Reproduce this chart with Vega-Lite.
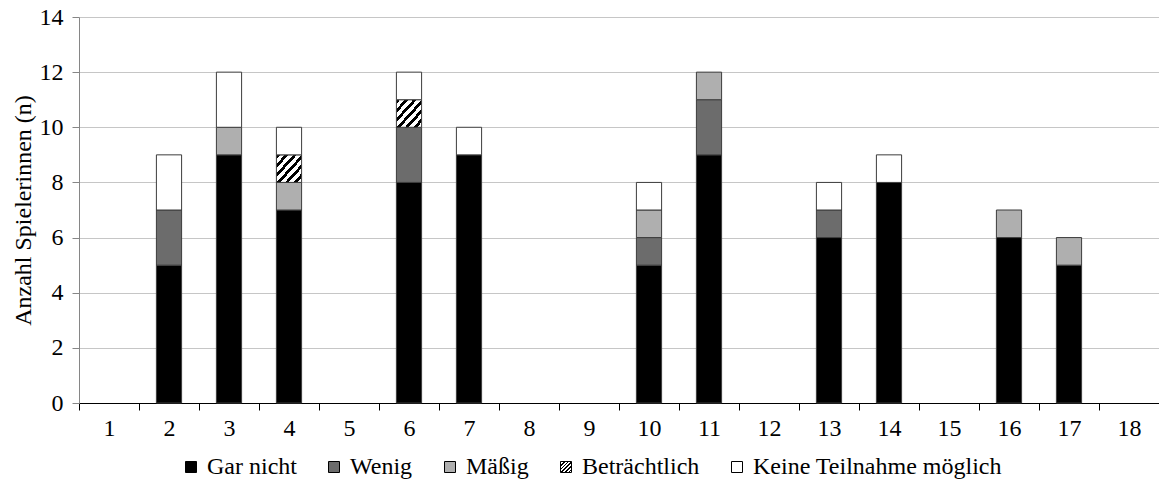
{
  "$schema": "https://vega.github.io/schema/vega-lite/v6.json",
  "width": 1080,
  "height": 386,
  "autosize": "none",
  "padding": {"left": 79, "top": 17, "right": 0, "bottom": 81},
  "background": "white",
  "config": {
    "font": "Liberation Serif",
    "view": {"stroke": null}
  },
  "data": {
    "values": [
      {"spiel": 2, "stufe": 1, "kategorie": "Gar nicht", "n": 5},
      {"spiel": 2, "stufe": 2, "kategorie": "Wenig", "n": 2},
      {"spiel": 2, "stufe": 5, "kategorie": "Keine Teilnahme möglich", "n": 2},
      {"spiel": 3, "stufe": 1, "kategorie": "Gar nicht", "n": 9},
      {"spiel": 3, "stufe": 3, "kategorie": "Mäßig", "n": 1},
      {"spiel": 3, "stufe": 5, "kategorie": "Keine Teilnahme möglich", "n": 2},
      {"spiel": 4, "stufe": 1, "kategorie": "Gar nicht", "n": 7},
      {"spiel": 4, "stufe": 3, "kategorie": "Mäßig", "n": 1},
      {"spiel": 4, "stufe": 4, "kategorie": "Beträchtlich", "n": 1},
      {"spiel": 4, "stufe": 5, "kategorie": "Keine Teilnahme möglich", "n": 1},
      {"spiel": 6, "stufe": 1, "kategorie": "Gar nicht", "n": 8},
      {"spiel": 6, "stufe": 2, "kategorie": "Wenig", "n": 2},
      {"spiel": 6, "stufe": 4, "kategorie": "Beträchtlich", "n": 1},
      {"spiel": 6, "stufe": 5, "kategorie": "Keine Teilnahme möglich", "n": 1},
      {"spiel": 7, "stufe": 1, "kategorie": "Gar nicht", "n": 9},
      {"spiel": 7, "stufe": 5, "kategorie": "Keine Teilnahme möglich", "n": 1},
      {"spiel": 10, "stufe": 1, "kategorie": "Gar nicht", "n": 5},
      {"spiel": 10, "stufe": 2, "kategorie": "Wenig", "n": 1},
      {"spiel": 10, "stufe": 3, "kategorie": "Mäßig", "n": 1},
      {"spiel": 10, "stufe": 5, "kategorie": "Keine Teilnahme möglich", "n": 1},
      {"spiel": 11, "stufe": 1, "kategorie": "Gar nicht", "n": 9},
      {"spiel": 11, "stufe": 2, "kategorie": "Wenig", "n": 2},
      {"spiel": 11, "stufe": 3, "kategorie": "Mäßig", "n": 1},
      {"spiel": 13, "stufe": 1, "kategorie": "Gar nicht", "n": 6},
      {"spiel": 13, "stufe": 2, "kategorie": "Wenig", "n": 1},
      {"spiel": 13, "stufe": 5, "kategorie": "Keine Teilnahme möglich", "n": 1},
      {"spiel": 14, "stufe": 1, "kategorie": "Gar nicht", "n": 8},
      {"spiel": 14, "stufe": 5, "kategorie": "Keine Teilnahme möglich", "n": 1},
      {"spiel": 16, "stufe": 1, "kategorie": "Gar nicht", "n": 6},
      {"spiel": 16, "stufe": 3, "kategorie": "Mäßig", "n": 1},
      {"spiel": 17, "stufe": 1, "kategorie": "Gar nicht", "n": 5},
      {"spiel": 17, "stufe": 3, "kategorie": "Mäßig", "n": 1}
    ]
  },
  "mark": {"type": "bar", "width": {"band": 0.42}, "stroke": "#3c3c3c", "strokeWidth": 1},
  "encoding": {
    "x": {
      "field": "spiel",
      "type": "ordinal",
      "scale": {"domain": [1, 2, 3, 4, 5, 6, 7, 8, 9, 10, 11, 12, 13, 14, 15, 16, 17, 18], "paddingInner": 0, "paddingOuter": 0},
      "axis": {
        "title": null,
        "labelAngle": 0,
        "labelFont": "Liberation Serif",
        "labelColor": "black",
        "labelFontSize": 24,
        "labelPadding": 6,
        "tickBand": "extent",
        "tickSize": 7,
        "tickColor": "black",
        "domainColor": "black",
        "grid": false
      }
    },
    "y": {
      "field": "n",
      "type": "quantitative",
      "aggregate": "sum",
      "stack": "zero",
      "scale": {"domain": [0, 14], "nice": false},
      "axis": {
        "title": "Anzahl Spielerinnen (n)",
        "titleFont": "Liberation Serif",
        "titleColor": "black",
        "titleFontSize": 24,
        "titleFontWeight": "normal",
        "titlePadding": 4,
        "values": [0, 2, 4, 6, 8, 10, 12, 14],
        "labelFont": "Liberation Serif",
        "labelColor": "black",
        "labelFontSize": 24,
        "labelPadding": 9,
        "tickSize": 7,
        "tickColor": "#868686",
        "domainColor": "#868686",
        "grid": true,
        "gridColor": "#c6c6c6"
      }
    },
    "order": {"field": "stufe", "type": "quantitative", "sort": "ascending"},
    "color": {
      "field": "kategorie",
      "type": "nominal",
      "scale": {
        "domain": ["Gar nicht", "Wenig", "Mäßig", "Beträchtlich", "Keine Teilnahme möglich"],
        "range": [
          "#000000",
          "#6c6c6c",
          "#afafaf",
          {"expr": "{gradient: 'linear', x1: 0, y1: 0, x2: 1, y2: 1, stops: [{offset: 0, color: '#000000'}, {offset: 0.075, color: '#000000'}, {offset: 0.075, color: '#ffffff'}, {offset: 0.1667, color: '#ffffff'}, {offset: 0.1667, color: '#000000'}, {offset: 0.2417, color: '#000000'}, {offset: 0.2417, color: '#ffffff'}, {offset: 0.3333, color: '#ffffff'}, {offset: 0.3333, color: '#000000'}, {offset: 0.4083, color: '#000000'}, {offset: 0.4083, color: '#ffffff'}, {offset: 0.5, color: '#ffffff'}, {offset: 0.5, color: '#000000'}, {offset: 0.575, color: '#000000'}, {offset: 0.575, color: '#ffffff'}, {offset: 0.6667, color: '#ffffff'}, {offset: 0.6667, color: '#000000'}, {offset: 0.7417, color: '#000000'}, {offset: 0.7417, color: '#ffffff'}, {offset: 0.8333, color: '#ffffff'}, {offset: 0.8333, color: '#000000'}, {offset: 0.9083, color: '#000000'}, {offset: 0.9083, color: '#ffffff'}, {offset: 1, color: '#ffffff'}]}"},
          "#ffffff"
        ]
      },
      "legend": {
        "title": null,
        "orient": "none",
        "direction": "horizontal",
        "legendX": 100,
        "legendY": 438,
        "padding": 0,
        "symbolType": "square",
        "symbolSize": 121,
        "symbolStrokeColor": "#000000",
        "symbolStrokeWidth": 1,
        "symbolOpacity": 1,
        "labelFont": "Liberation Serif",
        "labelFontSize": 24,
        "labelOffset": 4,
        "labelColor": "black",
        "columnPadding": 25,
        "labelLimit": 400,
        "encode": {
          "symbols": {
            "update": {
              "stroke": {"value": "#000000"},
              "strokeWidth": {"value": 1}
            }
          }
        }
      }
    }
  }
}
